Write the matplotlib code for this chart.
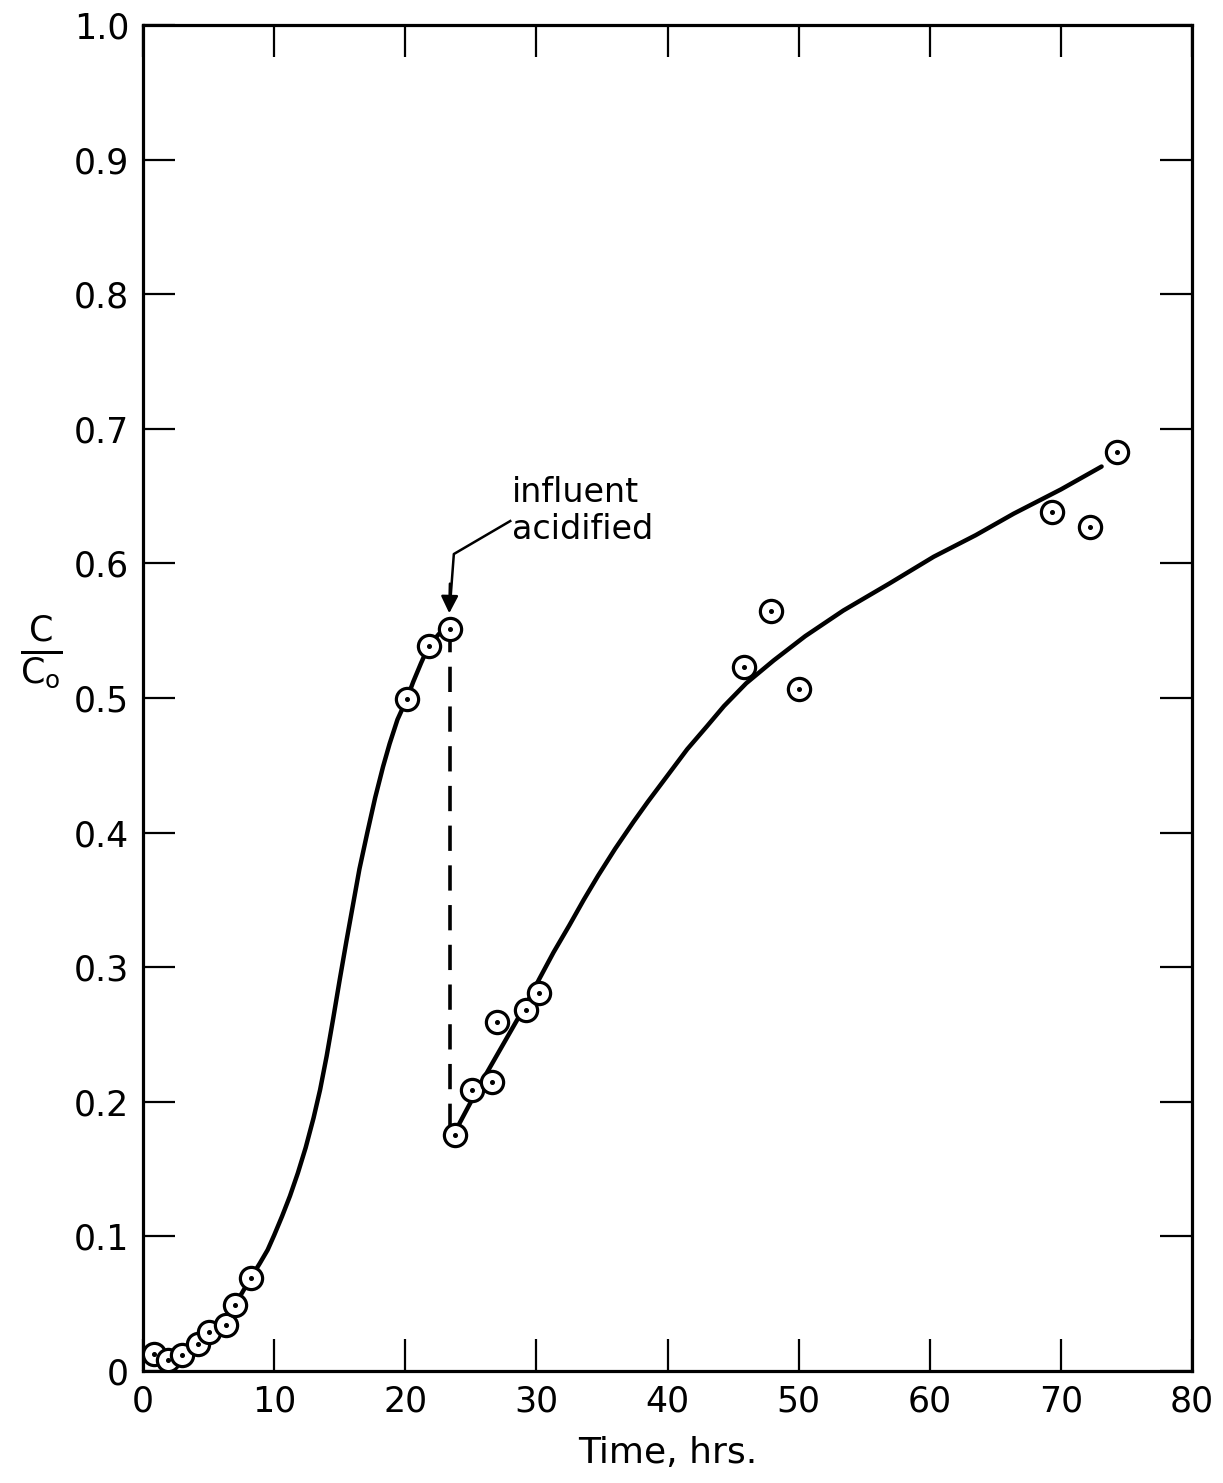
#!/usr/bin/env python3
import matplotlib
matplotlib.use('Agg')
import matplotlib.pyplot as plt

# measured points (time in hrs, C/Co)
time_pts = [0.8, 1.9, 3.0, 4.2, 5.0, 6.3, 7.0, 8.2,
            20.1, 21.8, 23.4,
            23.8, 25.1, 26.6, 27.0, 29.2, 30.2,
            45.8, 47.9, 50.0, 69.3, 72.2, 74.3]
conc_pts = [0.013, 0.008, 0.012, 0.020, 0.029, 0.034, 0.049, 0.069,
            0.499, 0.539, 0.551,
            0.175, 0.209, 0.215, 0.259, 0.268, 0.281,
            0.523, 0.565, 0.507, 0.638, 0.627, 0.683]

# hand-drawn curve before acidification
curve1_t = [0.8, 1.9, 3.0, 4.2, 5.0, 6.3, 7.0, 8.2, 8.9, 9.5, 10.0, 10.6,
            11.2, 11.8, 12.4, 13.0, 13.5, 14.0, 14.5, 15.0, 15.5, 16.0,
            16.5, 17.1, 17.7, 18.3, 18.8, 19.4, 20.1, 20.6, 21.2, 21.8,
            22.6, 23.4]
curve1_c = [0.013, 0.008, 0.012, 0.020, 0.029, 0.034, 0.049, 0.069, 0.080,
            0.090, 0.101, 0.115, 0.130, 0.147, 0.166, 0.188, 0.209, 0.234,
            0.262, 0.291, 0.319, 0.346, 0.373, 0.400, 0.426, 0.449, 0.466,
            0.484, 0.499, 0.512, 0.526, 0.539, 0.548, 0.554]

# hand-drawn curve after acidification
curve2_t = [23.8, 25.0, 26.3, 27.3, 28.3, 29.3, 30.2, 31.3, 32.5, 33.6,
            34.7, 36.0, 37.4, 38.5, 39.5, 40.5, 41.5, 43.0, 44.3, 46.0,
            48.1, 50.5, 53.4, 56.9, 60.3, 63.5, 66.4, 70.0, 73.1]
curve2_c = [0.178, 0.200, 0.223, 0.240, 0.257, 0.274, 0.291, 0.311, 0.331,
            0.350, 0.368, 0.388, 0.408, 0.423, 0.436, 0.449, 0.462, 0.479,
            0.494, 0.511, 0.528, 0.546, 0.565, 0.585, 0.605, 0.621, 0.637,
            0.655, 0.672]

acid_t = 23.4
acid_range = [0.553, 0.18]

x_ticks = [0, 10, 20, 30, 40, 50, 60, 70, 80]
y_ticks = [0, 0.1, 0.2, 0.3, 0.4, 0.5, 0.6, 0.7, 0.8, 0.9, 1.0]
y_labels = ['0', '0.1', '0.2', '0.3', '0.4', '0.5', '0.6', '0.7', '0.8', '0.9', '1.0']


def main():
    fig = plt.figure(figsize=(12.23, 14.83), dpi=100)
    ax = fig.add_axes([0.117, 0.0755, 0.8577, 0.9076])

    ax.plot(curve1_t, curve1_c, color='black', linewidth=3.2,
            solid_capstyle='round', solid_joinstyle='round', zorder=2)
    ax.plot(curve2_t, curve2_c, color='black', linewidth=3.2,
            solid_capstyle='round', solid_joinstyle='round', zorder=2)
    ax.plot([acid_t, acid_t], acid_range, color='black', linewidth=2.6,
            dashes=(7, 4), zorder=2)

    # circles with centre dots
    ax.plot(time_pts, conc_pts, linestyle='none', marker='o', markersize=16,
            markerfacecolor='white', markeredgecolor='black',
            markeredgewidth=2.3, zorder=3)
    ax.plot(time_pts, conc_pts, linestyle='none', marker='o', markersize=2.6,
            color='black', zorder=4)

    # annotation with bent arrow
    ax.plot([28.0, 23.7, 23.4], [0.6315, 0.607, 0.568], color='black',
            linewidth=1.8, zorder=2)
    ax.annotate('', xy=(23.35, 0.563), xytext=(23.4, 0.585),
                arrowprops=dict(arrowstyle='-|>', color='black', lw=1.8,
                                mutation_scale=26, shrinkA=0, shrinkB=0))
    ax.text(28.1, 0.665, 'influent\nacidified', fontsize=24,
            ha='left', va='top', linespacing=1.15)

    ax.set_xlim(0, 80)
    ax.set_ylim(0, 1.0)
    ax.set_xticks(x_ticks)
    ax.set_yticks(y_ticks)
    ax.set_yticklabels(y_labels)
    ax.tick_params(direction='in', length=23, width=1.6, top=True, right=True,
                   labelsize=25, pad=10)
    for sp in ax.spines.values():
        sp.set_linewidth(2.3)

    ax.set_xlabel('Time, hrs.', fontsize=26, labelpad=12)
    fig.text(0.034, 0.560, r'$\frac{\mathrm{C}}{\mathrm{C_o}}$', fontsize=36,
             ha='center', va='center')

    fig.savefig('out.png', dpi=100)


if __name__ == '__main__':
    main()
